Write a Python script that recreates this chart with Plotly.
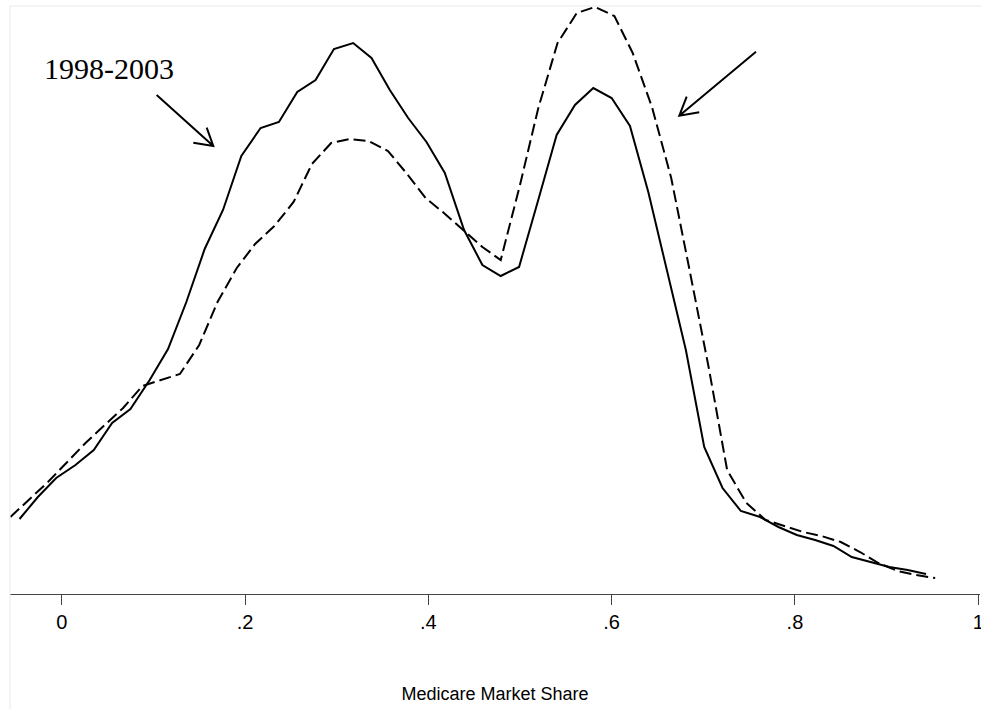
import plotly.graph_objects as go

# ---- data ----
share_a = [-0.046, -0.026, -0.006, 0.015, 0.035, 0.055, 0.075, 0.096, 0.116, 0.136,
           0.156, 0.176, 0.196, 0.217, 0.237, 0.257, 0.277, 0.297, 0.318, 0.338,
           0.358, 0.378, 0.398, 0.418, 0.439, 0.459, 0.479, 0.499, 0.519, 0.540,
           0.560, 0.580, 0.600, 0.620, 0.640, 0.661, 0.681, 0.701, 0.721, 0.741,
           0.762, 0.782, 0.802, 0.822, 0.842, 0.862, 0.883, 0.903, 0.923, 0.943]
dens_a = [0.375, 0.485, 0.580, 0.645, 0.720, 0.855, 0.925, 1.070, 1.225, 1.460,
          1.725, 1.920, 2.190, 2.330, 2.360, 2.510, 2.570, 2.725, 2.755, 2.680,
          2.520, 2.380, 2.260, 2.105, 1.820, 1.645, 1.590, 1.635, 1.955, 2.295,
          2.445, 2.530, 2.480, 2.340, 2.010, 1.605, 1.220, 0.735, 0.530, 0.415,
          0.385, 0.335, 0.295, 0.270, 0.240, 0.185, 0.160, 0.135, 0.120, 0.100]

share_b = [-0.056, -0.036, -0.015, 0.005, 0.026, 0.047, 0.067, 0.088, 0.108, 0.129,
           0.150, 0.170, 0.191, 0.211, 0.232, 0.253, 0.273, 0.294, 0.314, 0.335,
           0.356, 0.376, 0.397, 0.417, 0.438, 0.459, 0.479, 0.500, 0.520, 0.541,
           0.562, 0.582, 0.603, 0.623, 0.644, 0.665, 0.685, 0.706, 0.726, 0.747,
           0.768, 0.788, 0.809, 0.829, 0.850, 0.871, 0.891, 0.912, 0.932, 0.953]
dens_b = [0.385, 0.470, 0.560, 0.655, 0.755, 0.845, 0.930, 1.040, 1.070, 1.100,
          1.245, 1.460, 1.630, 1.750, 1.840, 1.960, 2.150, 2.255, 2.275, 2.265,
          2.215, 2.105, 1.980, 1.905, 1.820, 1.735, 1.670, 2.045, 2.430, 2.755,
          2.905, 2.935, 2.890, 2.705, 2.435, 2.080, 1.620, 1.130, 0.620, 0.455,
          0.370, 0.340, 0.310, 0.290, 0.260, 0.210, 0.155, 0.115, 0.095, 0.080]

tick_vals = [0, 0.2, 0.4, 0.6, 0.8, 1]
tick_text = ["0", ".2", ".4", ".6", ".8", "1"]
x_title = "Medicare Market Share"
label_text = "1998-2003"

# ---- figure ----
fig = go.Figure()
fig.add_trace(go.Scatter(x=share_a, y=dens_a, mode="lines",
                         line=dict(color="black", width=2), showlegend=False))
fig.add_trace(go.Scatter(x=share_b, y=dens_b, mode="lines",
                         line=dict(color="black", width=2, dash="12px,5px"),
                         showlegend=False))

# arrows (open V heads)
arrows = [
    ((0.1036, 2.495), (0.1654, 2.240), (0.1436, 2.2565), (0.1582, 2.3315)),
    ((0.7575, 2.7115), (0.6738, 2.3915), (0.6956, 2.4085), (0.6819, 2.4865)),
]
for tail, tip, la, lb in arrows:
    path = (f"M {tail[0]},{tail[1]} L {tip[0]},{tip[1]} "
            f"M {la[0]},{la[1]} L {tip[0]},{tip[1]} L {lb[0]},{lb[1]}")
    fig.add_shape(type="path", path=path, xref="x", yref="y",
                  line=dict(color="black", width=2))

# faint outer frame lines (top and left)
fig.add_shape(type="line", xref="paper", yref="paper", x0=0, x1=1.01, y0=1, y1=1,
              line=dict(color="#e9e9e9", width=1))
fig.add_shape(type="line", xref="paper", yref="paper", x0=0, x1=0, y0=1, y1=-0.2,
              line=dict(color="#e9e9e9", width=1))

fig.add_annotation(x=0.0516, y=2.6275, xref="x", yref="y", text=label_text,
                   showarrow=False,
                   font=dict(family="Liberation Serif", size=30, color="black"))

fig.update_layout(
    width=981, height=709,
    margin=dict(l=10, r=1, t=6, b=115, autoexpand=False),
    paper_bgcolor="white", plot_bgcolor="white",
    font=dict(family="Liberation Sans", color="black"),
    xaxis=dict(range=[-0.0564, 1.0019], tickvals=tick_vals, ticktext=tick_text,
               automargin=False,
               showgrid=False, zeroline=False, showline=True,
               linecolor="#444444", linewidth=1,
               ticks="outside", ticklen=10, tickcolor="#444444", tickwidth=1,
               ticklabeloverflow="allow",
               tickfont=dict(size=20, color="black"),
               title=dict(text=x_title, font=dict(size=18, color="black"), standoff=55)),
    yaxis=dict(range=[0, 2.94], visible=False, showgrid=False, zeroline=False),
)

fig.write_html("out.html")
